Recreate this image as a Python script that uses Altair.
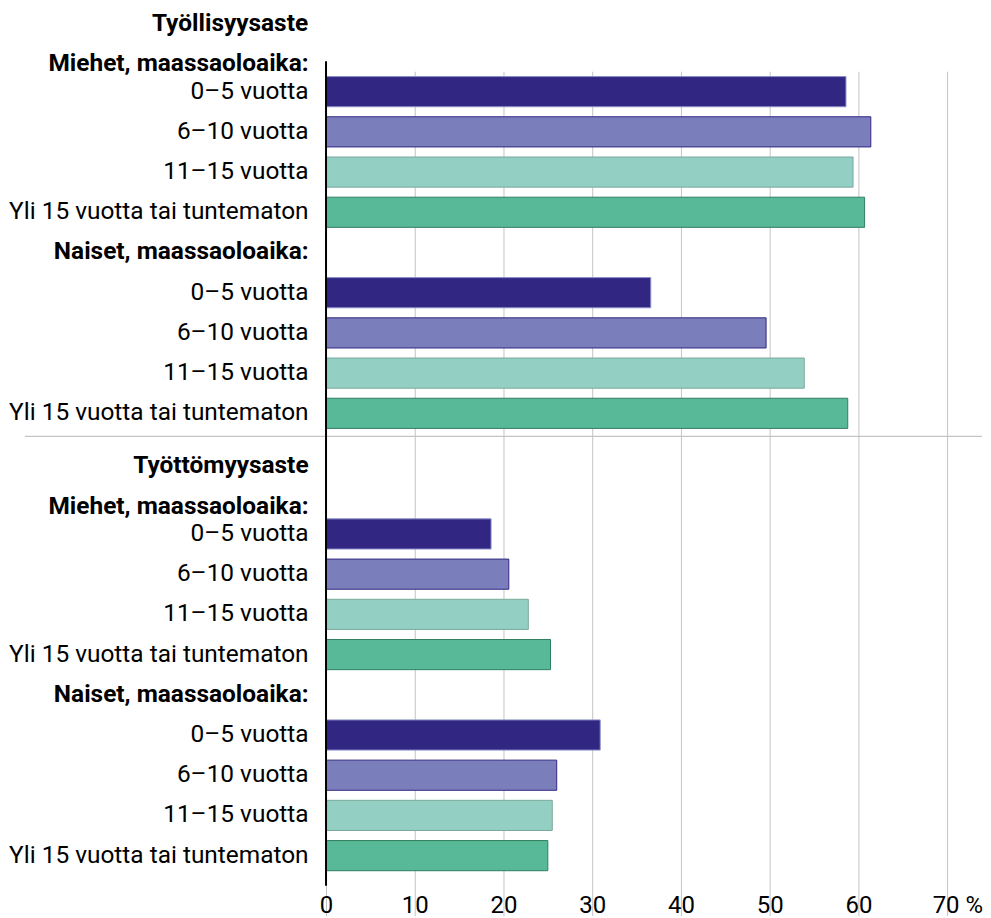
import altair as alt
import pandas as pd

# ---- data ----
categories = ["0–5 vuotta", "6–10 vuotta", "11–15 vuotta", "Yli 15 vuotta tai tuntematon"]
section_titles = ["Työllisyysaste", "Työttömyysaste"]
group_headers = ["Miehet, maassaoloaika:", "Naiset, maassaoloaika:"]
employment_men = [58.6, 61.4, 59.4, 60.7]
employment_women = [36.6, 49.6, 53.9, 58.8]
unemployment_men = [18.6, 20.6, 22.8, 25.3]
unemployment_women = [30.9, 26.0, 25.5, 25.0]
x_ticks = [0, 10, 20, 30, 40, 50, 60, 70]

# ---- styles ----
fill_colors = ["#312783", "#7a7fbb", "#93cfc3", "#58b998"]
stroke_colors = ["#8c8fc8", "#312783", "#7aa99c", "#2f7f5f"]
FONT = "Roboto"
PLOT_W = 623
PLOT_H = 827

rows = []


def add(label, bold, value=None, cat=None):
    rows.append({
        "key": f"{len(rows):02d}{'B' if bold else 'N'}|{label}",
        "value": value,
        "cat": cat,
    })


blocks = [(employment_men, employment_women), (unemployment_men, unemployment_women)]
for s, (men, women) in enumerate(blocks):
    if s > 0:
        add(section_titles[s], True)
    add(group_headers[0], True)
    for c, v in zip(categories, men):
        add(c, False, v, c)
    add(group_headers[1], True)
    for c, v in zip(categories, women):
        add(c, False, v, c)

df = pd.DataFrame(rows)
keys = list(df["key"])
sep_key = [k for k in keys if k.endswith("|" + section_titles[1])][0]
sep_df = pd.DataFrame({"key": [sep_key]})
zero_df = pd.DataFrame({"x": [0]})

y_scale = alt.Scale(domain=keys, range=[-30, 817], paddingInner=0.25, paddingOuter=0.125)

shift_test = (
    f"indexof(datum.value, '{group_headers[0]}') >= 0 || "
    f"indexof(datum.value, '{section_titles[1]}') >= 0"
)

y_axis = alt.Axis(
    title=None,
    labelExpr="split(datum.value, '|')[1]",
    labelFontWeight={"condition": {"test": "indexof(datum.value, 'B|') >= 0", "value": "bold"}, "value": "normal"},
    labelOffset={"condition": {"test": shift_test, "value": 13}, "value": 0},
    ticks=False,
    grid=False,
    domain=False,
    labelPadding=18,
    labelFontSize=24.5,
    labelFont=FONT,
    labelColor="black",
    labelLimit=500,
)

x_axis = alt.Axis(
    title=None,
    values=x_ticks,
    labelExpr="datum.value == 70 ? '70 %' : datum.label",
    labelAlign={"condition": {"test": "datum.value == 70", "value": "left"}, "value": "center"},
    labelOffset={"condition": {"test": "datum.value == 70", "value": -15}, "value": 0},
    domain=False,
    ticks=False,
    grid=True,
    gridColor="#c4c4c4",
    gridWidth=1,
    labelFontSize=24,
    labelFont=FONT,
    labelColor="black",
    labelPadding=8,
)

x_scale = alt.Scale(domain=[0, 70], nice=False, zero=True)

bars = alt.Chart(df).transform_filter("isValid(datum.value)").mark_bar(strokeWidth=1).encode(
    y=alt.Y("key:N", scale=y_scale, axis=y_axis),
    x=alt.X("value:Q", scale=x_scale, axis=x_axis),
    color=alt.Color("cat:N", scale=alt.Scale(domain=categories, range=fill_colors), legend=None),
    stroke=alt.Stroke("cat:N", scale=alt.Scale(domain=categories, range=stroke_colors), legend=None),
)

separator = alt.Chart(sep_df).mark_rule(color="#c4c4c4", strokeWidth=1.2, yOffset=-2).encode(
    y=alt.Y("key:N", scale=y_scale, bandPosition=0),
    x=alt.value(-302),
    x2=alt.value(658),
)

axis_line = alt.Chart(zero_df).mark_rule(color="black", strokeWidth=2).encode(
    x=alt.X("x:Q", scale=x_scale),
    y=alt.value(0),
    y2=alt.value(PLOT_H),
)

chart = alt.layer(separator, bars, axis_line).properties(
    width=PLOT_W,
    height=PLOT_H,
    padding={"left": 0, "top": 2, "right": 0, "bottom": 0},
    title=alt.TitleParams(
        text=section_titles[0],
        anchor="start",
        frame="group",
        align="right",
        dx=-18,
        offset=14,
        font=FONT,
        fontSize=24.5,
        fontWeight="bold",
        color="black",
    ),
).configure_view(stroke=None)

chart.save("out.html", embed_options={"renderer": "svg", "actions": False})
